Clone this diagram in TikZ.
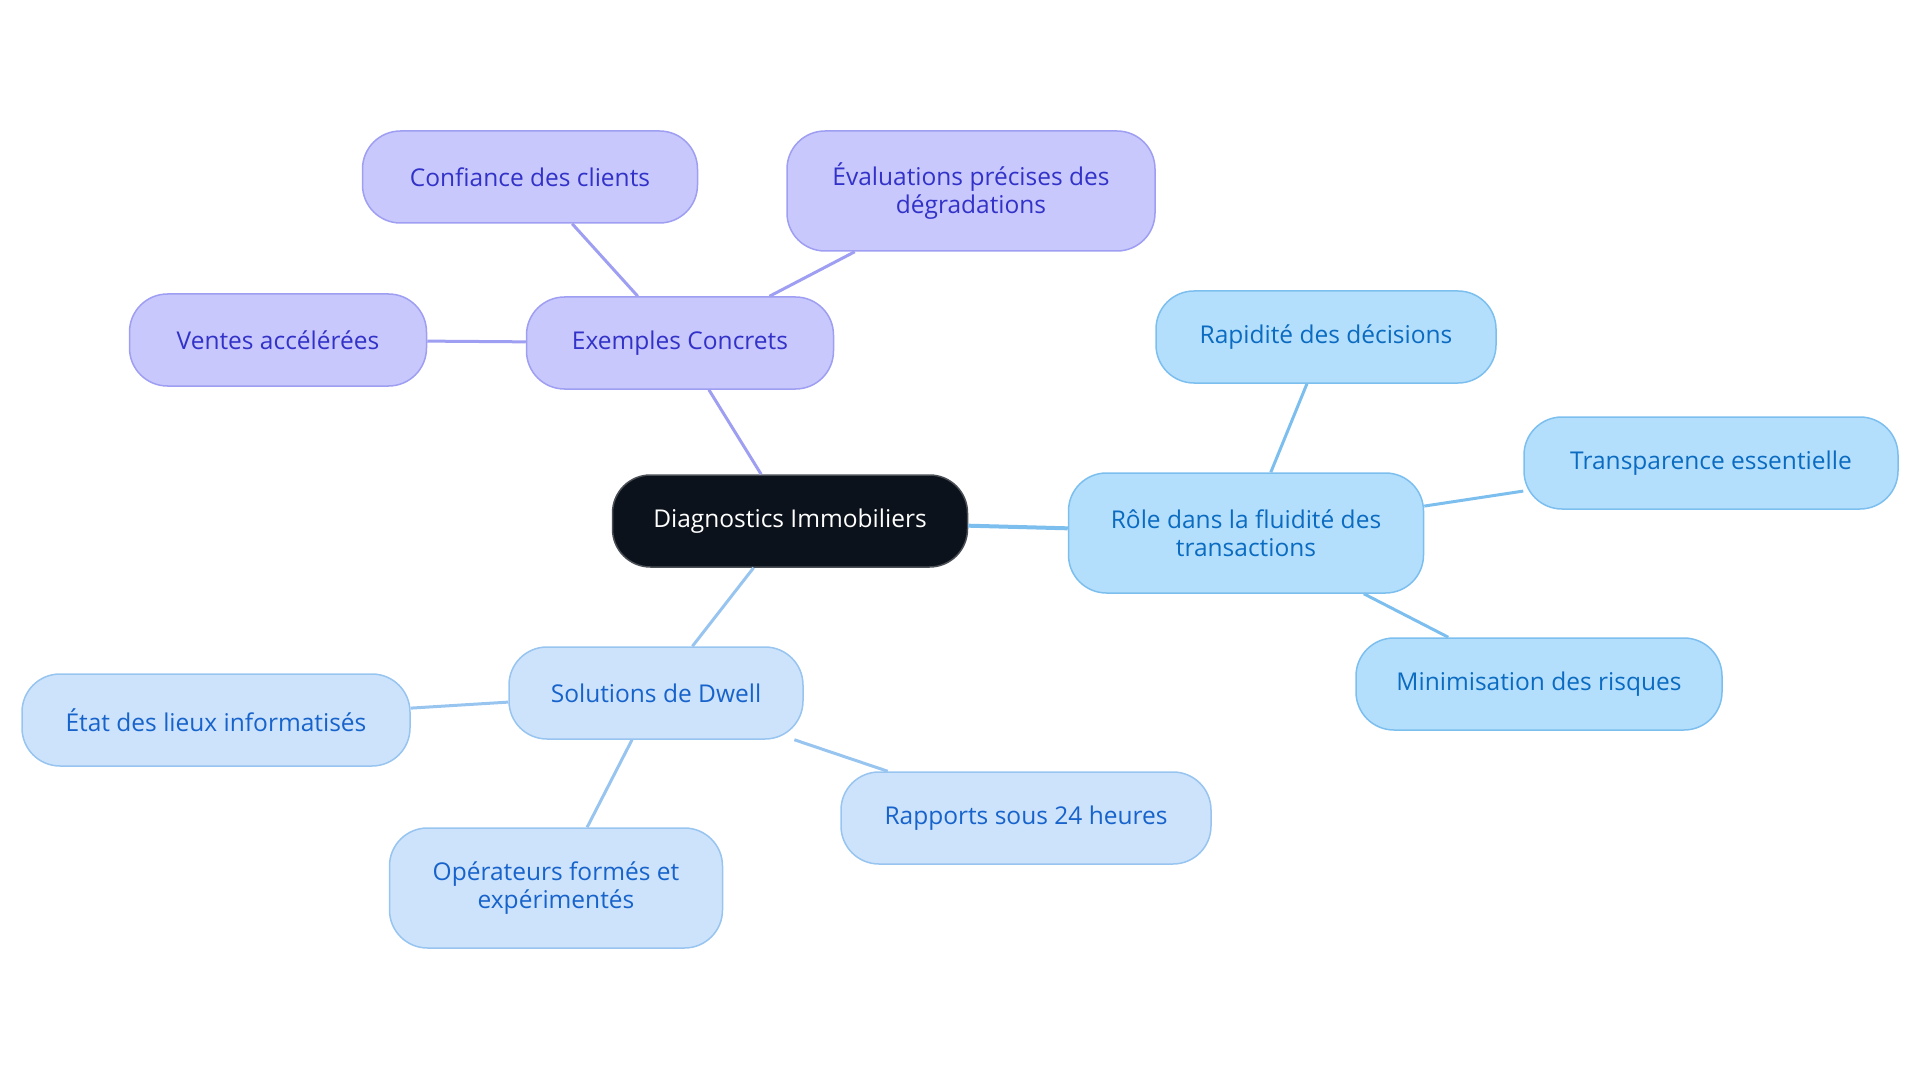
\documentclass[tikz,border=0pt]{standalone}
\usepackage{fontspec}
\setmainfont{Open Sans}

\definecolor{rootfill}{HTML}{0C121B}
\definecolor{rootdraw}{HTML}{4A4E55}
\definecolor{purpfill}{HTML}{C8C8FD}
\definecolor{purpdraw}{HTML}{9E9EF2}
\definecolor{purptext}{HTML}{3232C8}
\definecolor{bluefill}{HTML}{B3DFFD}
\definecolor{bluedraw}{HTML}{7CBFEF}
\definecolor{bluetext}{HTML}{0B6BC0}
\definecolor{lbfill}{HTML}{CCE3FB}
\definecolor{lbdraw}{HTML}{98C4F0}
\definecolor{lbtext}{HTML}{1763CB}

\begin{document}
\begin{tikzpicture}[x=1pt, y=-1pt,
	box/.style={rounded corners=38pt, line width=1.5pt, minimum height=92pt,
		align=center, inner sep=0pt, font=\fontsize{24.5}{28}\selectfont},
	rootbox/.style={box, fill=rootfill, draw=rootdraw, text=white},
	purpbox/.style={box, fill=purpfill, draw=purpdraw, text=purptext},
	bluebox/.style={box, fill=bluefill, draw=bluedraw, text=bluetext},
	lbbox/.style={box, fill=lbfill, draw=lbdraw, text=lbtext},
	purpline/.style={draw=purpdraw, line width=3pt},
	blueline/.style={draw=bluedraw, line width=3pt},
	lbline/.style={draw=lbdraw, line width=3pt}]

	\useasboundingbox (0, 0) rectangle (1920, 1083);

	% centre
	\node[rootbox, minimum width=355pt] (diag) at (790, 521) {Diagnostics Immobiliers};

	% exemples
	\node[purpbox, minimum width=307pt] (exemples) at (680, 343) {Exemples Concrets};
	\node[purpbox, minimum width=335pt] (confiance) at (530, 177) {Confiance des clients};
	\node[purpbox, minimum width=368pt, minimum height=120pt] (evaluations) at (971, 191) {Évaluations précises des\\ dégradations};
	\node[purpbox, minimum width=297pt] (ventes) at (278, 340) {Ventes accélérées};

	% role
	\node[bluebox, minimum width=355pt, minimum height=120pt] (role) at (1246, 533) {Rôle dans la fluidité des\\ transactions};
	\node[bluebox, minimum width=340pt] (rapidite) at (1326, 337) {Rapidité des décisions};
	\node[bluebox, minimum width=374pt] (transparence) at (1711, 463) {Transparence essentielle};
	\node[bluebox, minimum width=366pt] (minimisation) at (1539, 684) {Minimisation des risques};

	% solutions
	\node[lbbox, minimum width=294pt] (solutions) at (656, 693) {Solutions de Dwell};
	\node[lbbox, minimum width=388pt] (etat) at (216, 720) {État des lieux informatisés};
	\node[lbbox, minimum width=333pt, minimum height=120pt] (operateurs) at (556, 888) {Opérateurs formés et\\ expérimentés};
	\node[lbbox, minimum width=370pt] (rapports) at (1026, 818) {Rapports sous 24 heures};

	\draw[purpline] (diag) -- (exemples);
	\draw[purpline] (exemples) -- (confiance);
	\draw[purpline] (exemples) -- (evaluations);
	\draw[purpline] (exemples) -- (ventes);

	\draw[blueline, line width=4pt] (diag) -- (role);
	\draw[blueline] (role) -- (rapidite);
	\draw[blueline] (role) -- (transparence);
	\draw[blueline] (role) -- (minimisation);

	\draw[lbline] (diag) -- (solutions);
	\draw[lbline] (solutions) -- (etat);
	\draw[lbline] (solutions) -- (operateurs);
	\draw[lbline] (solutions) -- (rapports);

\end{tikzpicture}
\end{document}
